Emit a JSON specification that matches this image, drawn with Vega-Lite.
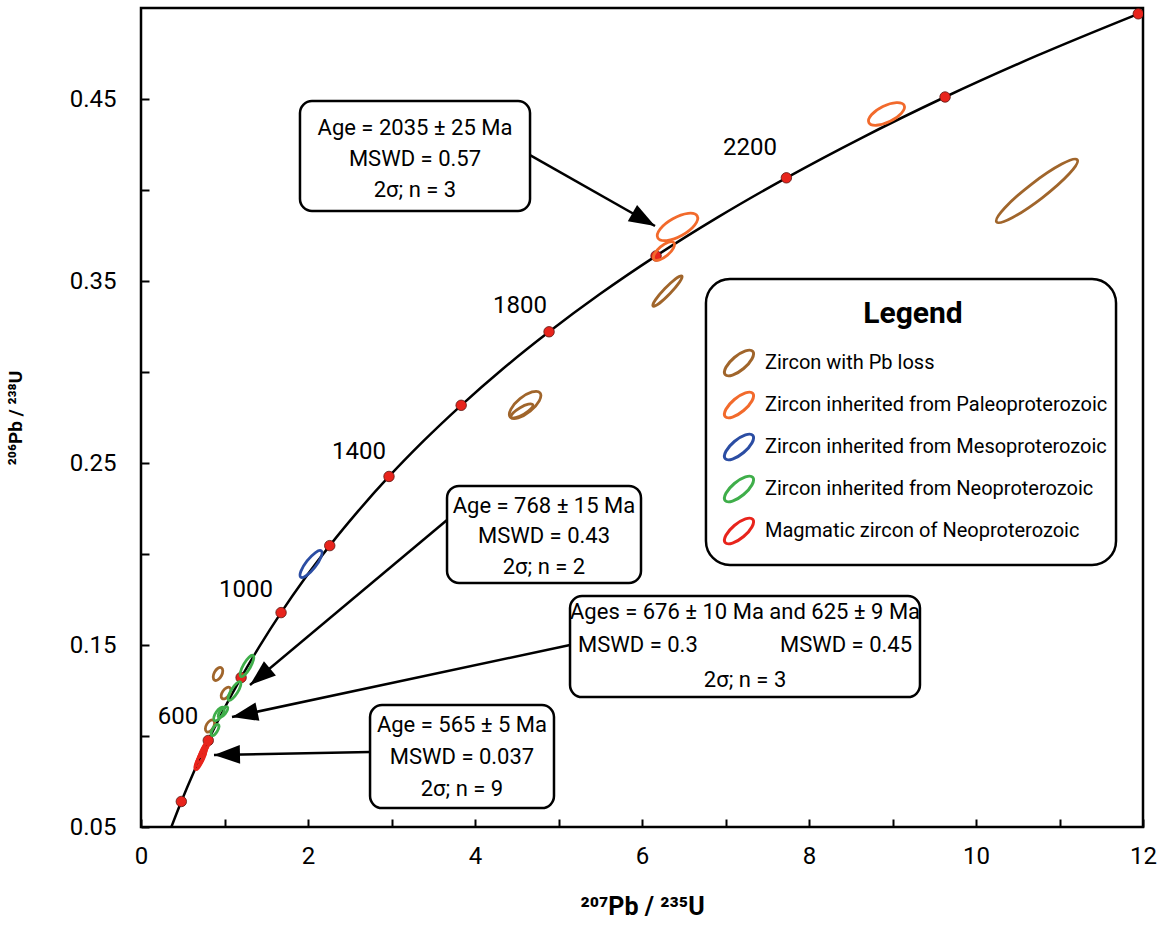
{
  "$schema": "https://vega.github.io/schema/vega-lite/v6.json",
  "width": 1002,
  "height": 819,
  "autosize": {"type": "none"},
  "padding": {"left": 141, "top": 8, "right": 16, "bottom": 103},
  "background": "white",
  "config": {
    "font": "Roboto",
    "view": {"stroke": "black", "strokeWidth": 2.5}
  },
  "datasets": {
    "concordia": [
      {"age": 300, "x": 0.3437, "y": 0.04764},
      {"age": 400, "x": 0.4828, "y": 0.06402},
      {"age": 500, "x": 0.6363, "y": 0.08065},
      {"age": 600, "x": 0.8056, "y": 0.09754},
      {"age": 700, "x": 0.9925, "y": 0.1147},
      {"age": 800, "x": 1.1987, "y": 0.1321},
      {"age": 900, "x": 1.4263, "y": 0.1498},
      {"age": 1000, "x": 1.6774, "y": 0.1678},
      {"age": 1100, "x": 1.9545, "y": 0.1861},
      {"age": 1200, "x": 2.2603, "y": 0.2046},
      {"age": 1300, "x": 2.5977, "y": 0.2234},
      {"age": 1400, "x": 2.9701, "y": 0.2426},
      {"age": 1500, "x": 3.381, "y": 0.262},
      {"age": 1600, "x": 3.8344, "y": 0.2817},
      {"age": 1700, "x": 4.3348, "y": 0.3018},
      {"age": 1800, "x": 4.8869, "y": 0.3221},
      {"age": 1900, "x": 5.4962, "y": 0.3428},
      {"age": 2000, "x": 6.1685, "y": 0.3638},
      {"age": 2100, "x": 6.9105, "y": 0.3851},
      {"age": 2200, "x": 7.7292, "y": 0.4067},
      {"age": 2300, "x": 8.6326, "y": 0.4287},
      {"age": 2400, "x": 9.6296, "y": 0.4511},
      {"age": 2500, "x": 10.7297, "y": 0.4738},
      {"age": 2600, "x": 11.9437, "y": 0.4968}
    ],
    "ageLabels": [
      {"label": "600", "x": 0.443, "y": 0.1104},
      {"label": "1000", "x": 1.257, "y": 0.1802},
      {"label": "1400", "x": 2.61, "y": 0.256},
      {"label": "1800", "x": 4.539, "y": 0.3363},
      {"label": "2200", "x": 7.293, "y": 0.4231}
    ],
    "zircons": [
      {"group": "Zircon with Pb loss", "x": 10.73, "y": 0.3995, "len": 1.22, "tilt": -37.6, "form": "thin"},
      {"group": "Zircon with Pb loss", "x": 6.305, "y": 0.3445, "len": 0.5, "tilt": -46, "form": "thin"},
      {"group": "Zircon with Pb loss", "x": 4.6, "y": 0.2819, "len": 0.46, "tilt": -39, "form": "oval"},
      {"group": "Zircon with Pb loss", "x": 4.563, "y": 0.2786, "len": 0.3, "tilt": -30, "form": "slim"},
      {"group": "Zircon with Pb loss", "x": 0.922, "y": 0.1341, "len": 0.17, "tilt": -62, "form": "round"},
      {"group": "Zircon with Pb loss", "x": 1.018, "y": 0.1236, "len": 0.16, "tilt": -55, "form": "round"},
      {"group": "Zircon with Pb loss", "x": 0.826, "y": 0.1055, "len": 0.16, "tilt": -60, "form": "round"},
      {"group": "Zircon inherited from Paleoproterozoic", "x": 8.928, "y": 0.4418, "len": 0.47, "tilt": -26, "form": "oval"},
      {"group": "Zircon inherited from Paleoproterozoic", "x": 6.425, "y": 0.3797, "len": 0.54, "tilt": -29, "form": "oval"},
      {"group": "Zircon inherited from Paleoproterozoic", "x": 6.263, "y": 0.3665, "len": 0.31, "tilt": -40, "form": "oval"},
      {"group": "Zircon inherited from Mesoproterozoic", "x": 2.036, "y": 0.1945, "len": 0.4, "tilt": -52, "form": "slim"},
      {"group": "Zircon inherited from Neoproterozoic", "x": 1.269, "y": 0.1385, "len": 0.29, "tilt": -60, "form": "slim"},
      {"group": "Zircon inherited from Neoproterozoic", "x": 1.12, "y": 0.1247, "len": 0.26, "tilt": -58, "form": "slim"},
      {"group": "Zircon inherited from Neoproterozoic", "x": 0.934, "y": 0.1121, "len": 0.19, "tilt": -55, "form": "oval"},
      {"group": "Zircon inherited from Neoproterozoic", "x": 0.982, "y": 0.1132, "len": 0.16, "tilt": -50, "form": "oval"},
      {"group": "Zircon inherited from Neoproterozoic", "x": 0.886, "y": 0.1033, "len": 0.15, "tilt": -60, "form": "oval"},
      {"group": "Magmatic zircon of Neoproterozoic", "x": 0.695, "y": 0.0857, "len": 0.2, "tilt": -65, "form": "slim"},
      {"group": "Magmatic zircon of Neoproterozoic", "x": 0.719, "y": 0.0879, "len": 0.22, "tilt": -65, "form": "slim"},
      {"group": "Magmatic zircon of Neoproterozoic", "x": 0.731, "y": 0.0896, "len": 0.2, "tilt": -63, "form": "slim"},
      {"group": "Magmatic zircon of Neoproterozoic", "x": 0.754, "y": 0.0923, "len": 0.18, "tilt": -62, "form": "slim"},
      {"group": "Magmatic zircon of Neoproterozoic", "x": 0.778, "y": 0.0945, "len": 0.16, "tilt": -60, "form": "slim"}
    ],
    "arrows": [
      {"x": 6.156, "y": 0.3802, "x2": 4.659, "y2": 0.4192, "dir": 29.6},
      {"x": 1.305, "y": 0.128, "x2": 3.665, "y2": 0.2187, "dir": 140.2},
      {"x": 1.09, "y": 0.1104, "x2": 5.138, "y2": 0.15, "dir": 168.1},
      {"x": 0.874, "y": 0.0896, "x2": 2.743, "y2": 0.0912, "dir": 178.9}
    ],
    "boxes": [
      {"x": 1.904, "x2": 4.659, "y": 0.4489, "y2": 0.3885},
      {"x": 3.665, "x2": 5.988, "y": 0.2374, "y2": 0.1841},
      {"x": 5.138, "x2": 9.329, "y": 0.1769, "y2": 0.1214},
      {"x": 2.743, "x2": 4.946, "y": 0.117, "y2": 0.0604}
    ],
    "legendFrame": [
      {"x": 6.766, "x2": 11.677, "y": 0.3511, "y2": 0.194}
    ],
    "notes": [
      {"side": "c", "x": 3.281, "y": 0.4341, "text": "Age = 2035 ± 25 Ma"},
      {"side": "c", "x": 3.281, "y": 0.417, "text": "MSWD = 0.57"},
      {"side": "c", "x": 3.281, "y": 0.4, "text": "2σ; n = 3"},
      {"side": "c", "x": 4.826, "y": 0.2264, "text": "Age = 768 ± 15 Ma"},
      {"side": "c", "x": 4.826, "y": 0.2099, "text": "MSWD = 0.43"},
      {"side": "c", "x": 4.826, "y": 0.1929, "text": "2σ; n = 2"},
      {"side": "c", "x": 7.234, "y": 0.1681, "text": "Ages = 676 ± 10 Ma and 625 ± 9 Ma"},
      {"side": "l", "x": 5.234, "y": 0.15, "text": "MSWD = 0.3"},
      {"side": "r", "x": 9.234, "y": 0.15, "text": "MSWD = 0.45"},
      {"side": "c", "x": 7.234, "y": 0.1308, "text": "2σ; n = 3"},
      {"side": "c", "x": 3.844, "y": 0.106, "text": "Age = 565 ± 5 Ma"},
      {"side": "c", "x": 3.844, "y": 0.0885, "text": "MSWD = 0.037"},
      {"side": "c", "x": 3.844, "y": 0.0709, "text": "2σ; n = 9"}
    ]
  },
  "encoding": {
    "x": {
      "field": "x", "type": "quantitative",
      "scale": {"domain": [0, 12], "nice": false, "zero": false},
      "axis": {
        "title": "²⁰⁷Pb / ²³⁵U",
        "values": [0, 1, 2, 3, 4, 5, 6, 7, 8, 9, 10, 11, 12],
        "format": "d",
        "labelExpr": "datum.value % 2 == 0 ? datum.label : ''",
        "labelOverlap": false, "labelFlush": false,
        "tickSize": -8, "tickWidth": 2, "tickColor": "black",
        "domain": false, "grid": false,
        "labelFontSize": 24, "labelPadding": 25, "labelColor": "black",
        "titleFontSize": 25, "titleFontWeight": "bold", "titlePadding": 26, "titleColor": "black"
      }
    },
    "y": {
      "field": "y", "type": "quantitative",
      "scale": {"domain": [0.05, 0.5], "nice": false, "zero": false},
      "axis": {
        "title": "²⁰⁶Pb / ²³⁸U",
        "values": [0.05, 0.1, 0.15, 0.2, 0.25, 0.3, 0.35, 0.4, 0.45],
        "format": ".2f",
        "labelExpr": "round(datum.value * 100) % 10 == 5 ? datum.label : ''",
        "labelOverlap": false, "labelFlush": false,
        "tickSize": -8, "tickWidth": 2, "tickColor": "black",
        "domain": false, "grid": false,
        "labelFontSize": 24, "labelPadding": 33, "labelColor": "black",
        "titleFontSize": 19, "titleFontWeight": "bold", "titlePadding": 44, "titleColor": "black"
      }
    }
  },
  "layer": [
    {
      "data": {"name": "legendFrame"},
      "mark": {"type": "rect", "fill": "white", "stroke": "black", "strokeWidth": 2.5, "cornerRadius": 24},
      "encoding": {"x2": {"field": "x2"}, "y2": {"field": "y2"}}
    },
    {
      "data": {"name": "concordia"},
      "mark": {"type": "line", "color": "black", "strokeWidth": 2.5, "interpolate": "monotone", "clip": true}
    },
    {
      "data": {"name": "concordia"},
      "transform": [{"filter": "datum.age % 200 == 0"}],
      "mark": {"type": "point", "filled": true, "fill": "#E8241C", "stroke": "#5a1510", "strokeWidth": 0.8, "size": 110, "opacity": 1, "clip": true}
    },
    {
      "data": {"name": "zircons"},
      "mark": {"type": "point", "filled": false, "strokeWidth": 2.8, "opacity": 1},
      "encoding": {
        "color": {
          "field": "group", "type": "nominal",
          "scale": {
            "domain": ["Zircon with Pb loss", "Zircon inherited from Paleoproterozoic", "Zircon inherited from Mesoproterozoic", "Zircon inherited from Neoproterozoic", "Magmatic zircon of Neoproterozoic"],
            "range": ["#A0652B", "#F26A2C", "#2B4DA3", "#3FAE4A", "#E8241C"]
          },
          "legend": {
            "title": "Legend",
            "orient": "none", "legendX": 565, "legendY": 278,
            "titleFontSize": 30, "titleFontWeight": "bold", "titleColor": "black", "titleAnchor": "middle", "titlePadding": 14,
            "labelFontSize": 20, "labelColor": "black", "labelLimit": 600, "labelOffset": 6,
            "symbolType": "M0.766,-0.643C0.908,-0.474 0.68,-0.049 0.257,0.306C-0.166,0.661 -0.624,0.812 -0.766,0.643C-0.908,0.474 -0.68,0.049 -0.257,-0.306C0.166,-0.661 0.624,-0.812 0.766,-0.643Z",
            "symbolSize": 1300, "symbolStrokeWidth": 3, "symbolFillColor": "transparent",
            "rowPadding": 3,
            "padding": 13
          }
        },
        "shape": {
          "field": "form", "type": "nominal", "legend": null,
          "scale": {
            "domain": ["thin", "slim", "oval", "round"],
            "range": [
              "M1,0C1,0.094 0.552,0.17 0,0.17C-0.552,0.17 -1,0.094 -1,0C-1,-0.094 -0.552,-0.17 0,-0.17C0.552,-0.17 1,-0.094 1,0Z",
              "M1,0C1,0.166 0.552,0.3 0,0.3C-0.552,0.3 -1,0.166 -1,0C-1,-0.166 -0.552,-0.3 0,-0.3C0.552,-0.3 1,-0.166 1,0Z",
              "M1,0C1,0.232 0.552,0.42 0,0.42C-0.552,0.42 -1,0.232 -1,0C-1,-0.232 -0.552,-0.42 0,-0.42C0.552,-0.42 1,-0.232 1,0Z",
              "M1,0C1,0.304 0.552,0.55 0,0.55C-0.552,0.55 -1,0.304 -1,0C-1,-0.304 -0.552,-0.55 0,-0.55C0.552,-0.55 1,-0.304 1,0Z"
            ]
          }
        },
        "size": {
          "field": "len", "type": "quantitative", "legend": null,
          "scale": {"type": "pow", "exponent": 2, "domain": [0, 2], "range": [0, 27889], "clamp": false}
        },
        "angle": {"field": "tilt", "type": "quantitative", "scale": null}
      }
    },
    {
      "data": {"name": "ageLabels"},
      "mark": {"type": "text", "fontSize": 24, "color": "black", "align": "center", "baseline": "middle"},
      "encoding": {"text": {"field": "label"}}
    },
    {
      "data": {"name": "arrows"},
      "mark": {"type": "rule", "color": "black", "strokeWidth": 2.5},
      "encoding": {"x2": {"field": "x2"}, "y2": {"field": "y2"}}
    },
    {
      "data": {"name": "arrows"},
      "mark": {"type": "point", "filled": true, "color": "black", "opacity": 1, "size": 2700, "shape": "M0,0L-1,-0.36L-1,0.36Z"},
      "encoding": {"angle": {"field": "dir", "type": "quantitative", "scale": null}}
    },
    {
      "data": {"name": "boxes"},
      "mark": {"type": "rect", "fill": "white", "stroke": "black", "strokeWidth": 2.5, "cornerRadius": 12},
      "encoding": {"x2": {"field": "x2"}, "y2": {"field": "y2"}}
    },
    {
      "data": {"name": "notes"},
      "transform": [{"filter": "datum.side == 'c'"}],
      "mark": {"type": "text", "fontSize": 22, "color": "black", "align": "center", "baseline": "middle"},
      "encoding": {"text": {"field": "text"}}
    },
    {
      "data": {"name": "notes"},
      "transform": [{"filter": "datum.side == 'l'"}],
      "mark": {"type": "text", "fontSize": 22, "color": "black", "align": "left", "baseline": "middle"},
      "encoding": {"text": {"field": "text"}}
    },
    {
      "data": {"name": "notes"},
      "transform": [{"filter": "datum.side == 'r'"}],
      "mark": {"type": "text", "fontSize": 22, "color": "black", "align": "right", "baseline": "middle"},
      "encoding": {"text": {"field": "text"}}
    }
  ]
}
